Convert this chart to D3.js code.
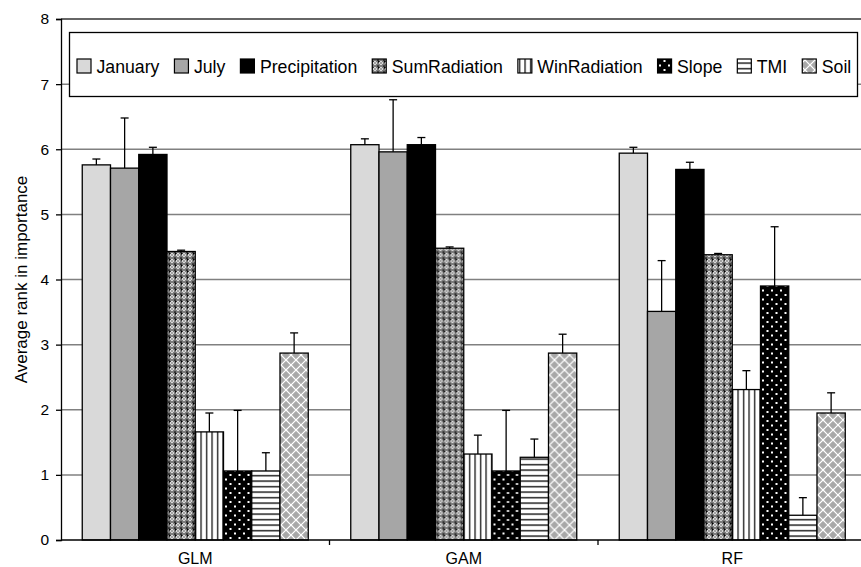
<!DOCTYPE html>
<html>
<head>
<meta charset="utf-8">
<script src="https://cdn.jsdelivr.net/npm/d3@7"></script>
<style>
  html, body { margin: 0; padding: 0; background: #fff; }
  svg { display: block; font-family: Arial, "Liberation Sans", sans-serif; }
</style>
</head>
<body>
<svg id="chart" width="861" height="567"></svg>
<script>
// models on the x axis and predictor variables (series)
var models = ['GLM', 'GAM', 'RF'];
var variables = ['January', 'July', 'Precipitation', 'SumRadiation', 'WinRadiation', 'Slope', 'TMI', 'Soil'];

// average rank per variable, one array per model
var glmRank = [5.76, 5.71, 5.92, 4.43, 1.66, 1.06, 1.06, 2.87];
var gamRank = [6.07, 5.96, 6.07, 4.48, 1.32, 1.06, 1.27, 2.87];
var rfRank  = [5.94, 3.51, 5.69, 4.38, 2.31, 3.90, 0.38, 1.95];

// upper error bar (standard error) per variable
var glmErr = [0.09, 0.77, 0.11, 0.02, 0.29, 0.93, 0.28, 0.31];
var gamErr = [0.09, 0.80, 0.11, 0.02, 0.29, 0.93, 0.28, 0.29];
var rfErr  = [0.09, 0.78, 0.11, 0.02, 0.29, 0.91, 0.27, 0.31];

var yTicks = [0, 1, 2, 3, 4, 5, 6, 7, 8];
var yTitle = 'Average rank in importance';

var ranks = {GLM: glmRank, GAM: gamRank, RF: rfRank};
var errs = {GLM: glmErr, GAM: gamErr, RF: rfErr};

var svg = d3.select('#chart');
var margin = {left: 61, top: 19, bottom: 540, right: 866.5};

var x0 = d3.scaleBand().domain(models).range([margin.left, margin.right]).padding(0);
var groupPad = 21.25;
var x1 = d3.scaleBand().domain(variables)
    .range([groupPad, x0.bandwidth() - groupPad]).padding(0);
var y = d3.scaleLinear().domain([0, 8]).range([margin.bottom, margin.top]);

/* Fill patterns, Excel-like */
var defs = svg.append('defs');

function pattern(id, w, h) {
    return defs.append('pattern').attr('id', id)
        .attr('patternUnits', 'userSpaceOnUse').attr('width', w).attr('height', h);
}

var p = pattern('pSum', 6, 6);
p.append('rect').attr('width', 6).attr('height', 6).attr('fill', '#7a7a7a');
p.append('path').attr('d', 'M3,0.8 L5.2,3 L3,5.2 L0.8,3 Z').attr('fill', '#fff');
p.append('path').attr('d', 'M-0.6,-1.5h1.2v0.9h0.9v1.2h-0.9v0.9h-1.2v-0.9h-0.9v-1.2h0.9z')
    .attr('transform', 'translate(0,1.5)').attr('fill', '#000');
p.append('path').attr('d', 'M5.4,0h1.2v0.9h-1.2z').attr('fill', '#000');
p.append('path').attr('d', 'M0,5.4h0.9v1.2h-0.9z M5.1,5.4h0.9v0.6h-0.9z').attr('fill', '#000');
p.append('rect').attr('x', 2.4).attr('y', 2.4).attr('width', 1.2).attr('height', 1.2).attr('fill', '#000');

p = pattern('pWin', 5.5, 6);
p.append('rect').attr('width', 5.5).attr('height', 6).attr('fill', '#fff');
p.append('rect').attr('x', 2).attr('width', 1.2).attr('height', 6).attr('fill', '#000');

p = pattern('pSlope', 9, 9);
p.append('rect').attr('width', 9).attr('height', 9).attr('fill', '#000');
p.append('rect').attr('x', 2).attr('y', 1.5).attr('width', 2).attr('height', 2).attr('fill', '#fff');
p.append('rect').attr('x', 6.5).attr('y', 6).attr('width', 2).attr('height', 2).attr('fill', '#fff');

p = pattern('pTmi', 6, 5.5);
p.append('rect').attr('width', 6).attr('height', 5.5).attr('fill', '#fff');
p.append('rect').attr('y', 2).attr('width', 6).attr('height', 1.3).attr('fill', '#000');

// grey diamonds on white
p = pattern('pSoil', 10, 10);
p.append('rect').attr('width', 10).attr('height', 10).attr('fill', '#fff');
[[0, 0], [10, 0], [0, 10], [10, 10], [5, 5]].forEach(function(c) {
    var r = 3.7;
    p.append('path')
        .attr('d', 'M' + c[0] + ',' + (c[1] - r) + 'L' + (c[0] + r) + ',' + c[1] +
            'L' + c[0] + ',' + (c[1] + r) + 'L' + (c[0] - r) + ',' + c[1] + 'Z')
        .attr('fill', '#a8a8a8').attr('stroke', '#a8a8a8').attr('stroke-width', 0.8)
        .attr('stroke-linejoin', 'round');
});

var fills = {
    January: '#d9d9d9',
    July: '#a6a6a6',
    Precipitation: '#000',
    SumRadiation: 'url(#pSum)',
    WinRadiation: 'url(#pWin)',
    Slope: 'url(#pSlope)',
    TMI: 'url(#pTmi)',
    Soil: 'url(#pSoil)'
};

/* Gridlines */
svg.append('g').selectAll('line').data(yTicks.filter(function(d) { return d > 0; }))
    .enter().append('line')
    .attr('x1', margin.left).attr('x2', 861)
    .attr('y1', function(d) { return y(d); }).attr('y2', function(d) { return y(d); })
    .attr('stroke', function(d) { return d == 8 ? '#333' : '#808080'; })
    .attr('stroke-width', 1.5);

/* Bars */
var groups = svg.append('g').selectAll('g').data(models).enter().append('g')
    .attr('transform', function(m) { return 'translate(' + x0(m) + ',0)'; });

function rows(m) {
    return variables.map(function(v, i) { return {v: v, val: ranks[m][i], err: errs[m][i]}; });
}

groups.selectAll('rect').data(rows)
    .enter().append('rect')
    .attr('x', function(d) { return x1(d.v); })
    .attr('width', x1.bandwidth())
    .attr('y', function(d) { return y(d.val); })
    .attr('height', function(d) { return y(0) - y(d.val); })
    .attr('fill', function(d) { return fills[d.v]; })
    .attr('stroke', '#000')
    .attr('stroke-width', 1.3);

/* Error bars (upper only) */
var eb = groups.selectAll('g.err').data(rows)
    .enter().append('g').attr('class', 'err')
    .attr('stroke', '#000').attr('stroke-width', 1.3);
eb.append('line')
    .attr('x1', function(d) { return x1(d.v) + x1.bandwidth() / 2; })
    .attr('x2', function(d) { return x1(d.v) + x1.bandwidth() / 2; })
    .attr('y1', function(d) { return y(d.val); })
    .attr('y2', function(d) { return y(d.val + d.err); });
eb.append('line')
    .attr('x1', function(d) { return x1(d.v) + x1.bandwidth() / 2 - 4; })
    .attr('x2', function(d) { return x1(d.v) + x1.bandwidth() / 2 + 4; })
    .attr('y1', function(d) { return y(d.val + d.err); })
    .attr('y2', function(d) { return y(d.val + d.err); });

/* Axes */
var yAxis = svg.append('g').attr('transform', 'translate(' + margin.left + ',0)')
    .call(d3.axisLeft(y).tickValues(yTicks).tickSize(5).tickPadding(7).tickFormat(d3.format('d')));
yAxis.select('.domain').attr('stroke', '#000').attr('stroke-width', 1.3);
yAxis.selectAll('.tick line').attr('stroke', '#000').attr('stroke-width', 1.3);
yAxis.selectAll('text').attr('font-size', 15.5).attr('fill', '#000')
    .attr('font-family', 'Arial, "Liberation Sans", sans-serif');

var xAxisG = svg.append('g').attr('transform', 'translate(0,' + margin.bottom + ')');
xAxisG.append('line').attr('x1', margin.left).attr('x2', 861)
    .attr('stroke', '#000').attr('stroke-width', 1.3);
xAxisG.selectAll('line.tk').data(models.map(function(m) { return x0(m) + x0.bandwidth(); }))
    .enter().append('line').attr('class', 'tk')
    .attr('x1', function(d) { return d; }).attr('x2', function(d) { return d; })
    .attr('y1', 0).attr('y2', 5)
    .attr('stroke', '#000').attr('stroke-width', 1.3);
xAxisG.selectAll('text').data(models).enter().append('text')
    .attr('x', function(m) { return x0(m) + x0.bandwidth() / 2; })
    .attr('y', 23.5)
    .attr('text-anchor', 'middle')
    .attr('font-size', 16)
    .text(function(m) { return m; });

svg.append('text')
    .attr('transform', 'translate(27,' + (margin.top + margin.bottom) / 2 + ') rotate(-90)')
    .attr('text-anchor', 'middle')
    .attr('font-size', 17)
    .text(yTitle);

/* Legend */
var legend = svg.append('g');
legend.append('rect').attr('x', 69.5).attr('y', 32.5).attr('width', 788).attr('height', 64)
    .attr('fill', '#fff').attr('stroke', '#000').attr('stroke-width', 1.3);
var lx = 77;
variables.forEach(function(v) {
    legend.append('rect').attr('x', lx).attr('y', 59).attr('width', 14).attr('height', 14)
        .attr('fill', fills[v]).attr('stroke', '#000').attr('stroke-width', 1.2);
    var t = legend.append('text').attr('x', lx + 19.5).attr('y', 72.5)
        .attr('font-size', 17.7).text(v);
    lx += 19.5 + t.node().getComputedTextLength() + 15;
});
</script>
</body>
</html>
